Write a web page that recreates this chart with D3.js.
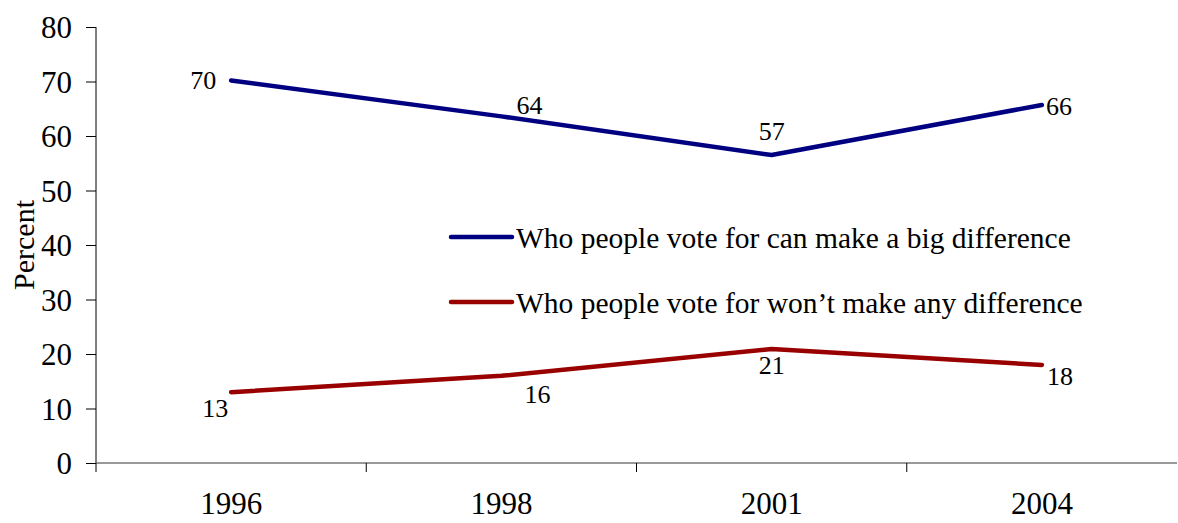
<!DOCTYPE html>
<html>
<head>
<meta charset="utf-8">
<script src="https://cdn.jsdelivr.net/npm/d3@7"></script>
<style>
  body { margin: 0; background: #fff; }
  svg text { font-family: "Liberation Serif", "Times New Roman", serif; fill: #000; }
</style>
</head>
<body>
<div id="chart"></div>
<script>
'use strict';

// Survey years and values (percent), labels show them rounded
const years = ["1996", "1998", "2001", "2004"];
const bigDifference = [70.2, 63.6, 56.5, 65.7];
const noDifference = [13, 16, 20.9, 18];
const yTicks = [0, 10, 20, 30, 40, 50, 60, 70, 80];

// Where each value label sits relative to its point
const bigPlace = ["left", "aboveRight", "above", "right"];
const noPlace = ["belowLeft", "belowRight", "below", "belowRightNear"];

const series = [
  { name: "Who people vote for can make a big difference", values: bigDifference, place: bigPlace, color: "#000080" },
  { name: "Who people vote for won\u2019t make any difference", values: noDifference, place: noPlace, color: "#990000" }
];

const W = 1178, H = 523;
const mg = { left: 96, right: 1, top: 27, bottom: 60 };
const serif = '"Liberation Serif", "Times New Roman", serif';
const fmt = d3.format(".0f");

const svg = d3.select("#chart").append("svg")
  .attr("width", W)
  .attr("height", H);

const x = d3.scaleBand()
  .domain(years)
  .range([mg.left, W - mg.right]);

const y = d3.scaleLinear()
  .domain([0, 80])
  .range([H - mg.bottom, mg.top]);

// Y axis
const yAxis = svg.append("g")
  .attr("transform", `translate(${mg.left},0)`)
  .attr("font-family", serif)
  .call(d3.axisLeft(y).tickValues(yTicks).tickSize(10).tickPadding(14));
yAxis.selectAll("text").style("font-size", "31px").attr("dy", "0.34em");
yAxis.selectAll("line, path").attr("stroke", "#000");
yAxis.select(".domain").attr("d", `M0,${y(80)}V${y(0)}`);

// X axis: ticks between categories
const xAxisG = svg.append("g")
  .attr("transform", `translate(0,${y(0)})`);
xAxisG.append("line")
  .attr("x1", mg.left).attr("x2", W - mg.right)
  .attr("y1", 0).attr("y2", 0)
  .attr("stroke", "#777").attr("stroke-width", 1.5);
xAxisG.selectAll(".xtick")
  .data(years)
  .enter().append("line")
  .attr("class", "xtick")
  .attr("x1", d => x(d)).attr("x2", d => x(d))
  .attr("y1", 0).attr("y2", 9)
  .attr("stroke", "#000");
xAxisG.selectAll(".xlab")
  .data(years)
  .enter().append("text")
  .attr("class", "xlab")
  .attr("x", d => x(d) + x.bandwidth() / 2)
  .attr("y", 51)
  .attr("text-anchor", "middle")
  .style("font-size", "31px")
  .text(d => d);

// Y title
svg.append("text")
  .attr("transform", `translate(34,${(y(0) + y(80)) / 2}) rotate(-90)`)
  .attr("text-anchor", "middle")
  .style("font-size", "30px")
  .text("Percent");

const line = d3.line()
  .x((d, i) => x(years[i]) + x.bandwidth() / 2)
  .y(d => y(d));

const offsets = {
  left:           { dx: -15, dy: 9,   anchor: "end" },
  aboveRight:     { dx: 15,  dy: -2,  anchor: "start" },
  above:          { dx: 0,   dy: -15, anchor: "middle" },
  right:          { dx: 4,   dy: 10,  anchor: "start" },
  belowLeft:      { dx: -3,  dy: 25,  anchor: "end" },
  belowRight:     { dx: 23,  dy: 27,  anchor: "start" },
  belowRightNear: { dx: 5,   dy: 20,  anchor: "start" },
  below:          { dx: 0,   dy: 25,  anchor: "middle" }
};

series.forEach(s => {
  svg.append("path")
    .datum(s.values)
    .attr("d", line)
    .attr("fill", "none")
    .attr("stroke", s.color)
    .attr("stroke-width", 4.5)
    .attr("stroke-linejoin", "round")
    .attr("stroke-linecap", "round");

  svg.selectAll(null)
    .data(s.values)
    .enter().append("text")
    .attr("x", (d, i) => x(years[i]) + x.bandwidth() / 2 + offsets[s.place[i]].dx)
    .attr("y", (d, i) => y(d) + offsets[s.place[i]].dy)
    .attr("text-anchor", (d, i) => offsets[s.place[i]].anchor)
    .style("font-size", "26px")
    .text(d => fmt(d));
});

// Legend
const legend = svg.selectAll(".legend")
  .data(series)
  .enter().append("g")
  .attr("class", "legend")
  .attr("transform", (d, i) => `translate(451,${237 + i * 65})`);

legend.append("line")
  .attr("x1", 0).attr("x2", 61)
  .attr("stroke", d => d.color)
  .attr("stroke-width", 4.5)
  .attr("stroke-linecap", "round");

legend.append("text")
  .attr("x", 65)
  .attr("y", 11)
  .style("font-size", "29.5px")
  .text(d => d.name);
</script>
</body>
</html>
